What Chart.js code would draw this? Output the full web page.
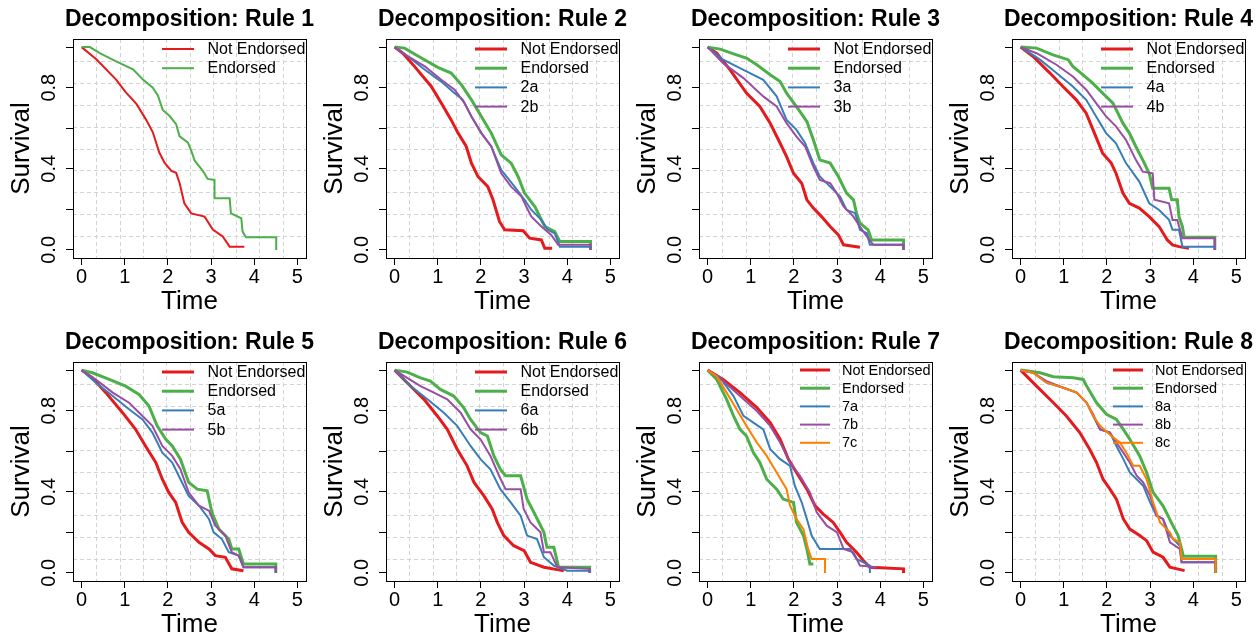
<!DOCTYPE html>
<html>
<head>
<meta charset="utf-8">
<script src="https://cdn.jsdelivr.net/npm/chart.js@4.4.1/dist/chart.umd.min.js"></script>
<style>
  html, body { margin: 0; padding: 0; background: #fff; overflow: hidden; }
  body { width: 1257px; height: 637px; position: relative; }
  canvas { position: absolute; }
</style>
</head>
<body>
<script>
// 軸の目盛り
const timeTicks = [0, 1, 2, 3, 4, 5];
const survTicks = [0, 0.2, 0.4, 0.6, 0.8, 1];
const survLabels = [0, 0.4, 0.8];
// 点線グリッドの位置
const gridTimes = [0.34, 0.88, 1.42, 1.96, 2.5, 3.04, 3.58, 4.12, 4.66];
const gridSurv = [0.068, 0.176, 0.284, 0.392, 0.5, 0.608, 0.716, 0.824, 0.932];

const titles = [
  'Decomposition: Rule 1', 'Decomposition: Rule 2', 'Decomposition: Rule 3', 'Decomposition: Rule 4',
  'Decomposition: Rule 5', 'Decomposition: Rule 6', 'Decomposition: Rule 7', 'Decomposition: Rule 8'
];
const groupNames = ['Not Endorsed', 'Endorsed'];
const subNames = [[], ['2a', '2b'], ['3a', '3b'], ['4a', '4b'], ['5a', '5b'], ['6a', '6b'], ['7a', '7b', '7c'], ['8a', '8b', '8c']];

// 生存曲線 [time, survival]
const rule1NotEndorsed = [[0,1],[0.34,0.94],[0.8,0.84],[1.01,0.78],[1.27,0.72],[1.5,0.64],[1.65,0.58],[1.8,0.48],[1.92,0.43],[2.08,0.39],[2.19,0.38],[2.27,0.33],[2.38,0.23],[2.54,0.18],[2.85,0.164],[3.04,0.1],[3.27,0.066],[3.43,0.016],[3.77,0.016]];
const rule1Endorsed = [[0,1],[0.19,1],[0.42,0.97],[0.8,0.93],[1.19,0.89],[1.42,0.84],[1.65,0.8],[1.77,0.76],[1.88,0.69],[2.04,0.66],[2.19,0.62],[2.27,0.56],[2.46,0.53],[2.54,0.49],[2.62,0.44],[2.81,0.39],[2.92,0.35],[3.08,0.345],[3.08,0.255],[3.43,0.255],[3.46,0.18],[3.7,0.156],[3.73,0.09],[3.81,0.062],[4.51,0.062],[4.51,0]];

const rule2NotEndorsed = [[0,1],[0.19,0.97],[0.46,0.905],[0.85,0.806],[1.08,0.724],[1.31,0.641],[1.47,0.576],[1.66,0.51],[1.78,0.428],[1.93,0.362],[2.16,0.312],[2.28,0.247],[2.43,0.14],[2.55,0.099],[2.98,0.094],[3.13,0.058],[3.4,0.049],[3.48,0.008],[3.65,0.008]];
const rule2Endorsed = [[0,1],[0.23,0.995],[0.62,0.946],[1.0,0.9],[1.31,0.872],[1.55,0.814],[1.78,0.74],[2.01,0.658],[2.24,0.576],[2.47,0.469],[2.7,0.428],[2.86,0.362],[3.01,0.28],[3.25,0.214],[3.48,0.115],[3.71,0.09],[3.83,0.041],[4.54,0.041],[4.54,0]];
const rule2a = [[0,1],[0.31,0.954],[0.7,0.888],[1.08,0.83],[1.39,0.773],[1.58,0.74],[1.78,0.658],[2.01,0.576],[2.24,0.51],[2.47,0.395],[2.78,0.312],[3.01,0.247],[3.17,0.197],[3.4,0.148],[3.55,0.099],[3.71,0.082],[3.83,0.016],[4.54,0.016],[4.54,0]];
const rule2b = [[0,1],[0.31,0.954],[0.7,0.905],[1.08,0.839],[1.39,0.79],[1.62,0.724],[1.78,0.658],[2.01,0.576],[2.24,0.51],[2.47,0.378],[2.7,0.312],[2.94,0.263],[3.05,0.214],[3.17,0.164],[3.4,0.115],[3.63,0.074],[3.79,0.025],[4.54,0.025],[4.54,0]];

const rule3NotEndorsed = [[0,1],[0.21,0.97],[0.52,0.888],[0.9,0.773],[1.21,0.707],[1.45,0.625],[1.68,0.526],[1.83,0.46],[1.99,0.378],[2.18,0.329],[2.3,0.247],[2.45,0.206],[2.64,0.164],[2.84,0.115],[3.03,0.074],[3.15,0.025],[3.53,0.013]];
const rule3Endorsed = [[0,1],[0.29,0.99],[0.67,0.962],[0.9,0.946],[1.14,0.913],[1.45,0.864],[1.68,0.83],[1.83,0.773],[2.06,0.707],[2.3,0.633],[2.45,0.543],[2.6,0.444],[2.84,0.428],[3.03,0.362],[3.22,0.28],[3.38,0.247],[3.45,0.181],[3.53,0.132],[3.72,0.099],[3.8,0.049],[4.54,0.049],[4.54,0]];
const rule3a = [[0,1],[0.36,0.938],[0.83,0.888],[1.29,0.839],[1.6,0.757],[1.83,0.641],[2.06,0.592],[2.26,0.526],[2.45,0.428],[2.6,0.362],[2.84,0.312],[3.07,0.263],[3.22,0.197],[3.42,0.181],[3.53,0.099],[3.69,0.082],[3.76,0.025],[4.54,0.025],[4.54,0]];
const rule3b = [[0,1],[0.36,0.921],[0.83,0.847],[1.29,0.757],[1.6,0.707],[1.83,0.625],[2.06,0.559],[2.26,0.51],[2.45,0.411],[2.6,0.345],[2.84,0.329],[2.99,0.28],[3.15,0.214],[3.38,0.164],[3.53,0.115],[3.69,0.066],[3.84,0.025],[4.54,0.025],[4.54,0]];

const rule4NotEndorsed = [[0,1],[0.29,0.954],[0.68,0.872],[0.98,0.806],[1.29,0.74],[1.52,0.674],[1.71,0.576],[1.9,0.477],[2.1,0.428],[2.21,0.378],[2.37,0.28],[2.52,0.23],[2.75,0.206],[2.98,0.164],[3.21,0.115],[3.4,0.049],[3.52,0.025],[3.67,0.016],[3.9,0.008]];
const rule4Endorsed = [[0,1],[0.37,0.995],[0.75,0.962],[1.1,0.938],[1.21,0.905],[1.44,0.864],[1.67,0.822],[1.9,0.773],[2.14,0.724],[2.37,0.625],[2.52,0.576],[2.67,0.51],[2.83,0.444],[2.98,0.378],[3.06,0.304],[3.44,0.304],[3.5,0.247],[3.63,0.247],[3.67,0.164],[3.75,0.115],[3.79,0.062],[4.5,0.062],[4.5,0]];
const rule4a = [[0,1],[0.45,0.938],[0.83,0.872],[1.21,0.806],[1.52,0.74],[1.75,0.658],[1.98,0.576],[2.21,0.526],[2.44,0.428],[2.75,0.337],[2.98,0.23],[3.21,0.197],[3.44,0.148],[3.52,0.099],[3.67,0.099],[3.75,0.016],[4.5,0.016],[4.5,0]];
const rule4b = [[0,1],[0.37,0.97],[0.83,0.913],[1.21,0.855],[1.52,0.79],[1.75,0.724],[1.98,0.658],[2.21,0.609],[2.44,0.543],[2.67,0.444],[2.83,0.386],[3.06,0.378],[3.1,0.247],[3.44,0.23],[3.52,0.148],[3.63,0.148],[3.75,0.058],[4.5,0.058],[4.5,0]];

const rule5NotEndorsed = [[0,1],[0.25,0.962],[0.56,0.889],[0.95,0.79],[1.25,0.708],[1.48,0.626],[1.72,0.544],[1.87,0.462],[2.02,0.397],[2.18,0.348],[2.33,0.249],[2.48,0.2],[2.72,0.151],[2.95,0.118],[3.1,0.085],[3.33,0.077],[3.48,0.02],[3.75,0.011]];
const rule5Endorsed = [[0,1],[0.25,0.987],[0.64,0.954],[1.02,0.921],[1.33,0.88],[1.56,0.823],[1.75,0.725],[1.95,0.659],[2.1,0.626],[2.29,0.561],[2.48,0.446],[2.68,0.413],[2.91,0.405],[3.02,0.298],[3.18,0.216],[3.41,0.167],[3.48,0.118],[3.64,0.118],[3.75,0.044],[4.5,0.044],[4.5,0]];
const rule5a = [[0,1],[0.33,0.938],[0.72,0.872],[1.1,0.807],[1.41,0.757],[1.64,0.692],[1.87,0.593],[2.1,0.544],[2.29,0.462],[2.48,0.38],[2.72,0.331],[2.95,0.266],[3.06,0.2],[3.25,0.167],[3.41,0.102],[3.64,0.085],[3.75,0.028],[4.5,0.028],[4.5,0]];
const rule5b = [[0,1],[0.33,0.954],[0.72,0.889],[1.1,0.839],[1.41,0.774],[1.64,0.725],[1.87,0.626],[2.1,0.577],[2.29,0.511],[2.48,0.397],[2.72,0.331],[2.95,0.307],[3.1,0.233],[3.33,0.184],[3.48,0.102],[3.64,0.085],[3.75,0.028],[4.5,0.028],[4.5,0]];

const rule6NotEndorsed = [[0,1],[0.29,0.938],[0.68,0.856],[0.99,0.774],[1.22,0.708],[1.45,0.61],[1.68,0.528],[1.84,0.446],[2.07,0.38],[2.26,0.315],[2.38,0.249],[2.53,0.184],[2.76,0.134],[3.0,0.11],[3.15,0.052],[3.46,0.028],[3.77,0.016],[3.92,0.011]];
const rule6Endorsed = [[0,1],[0.29,0.99],[0.6,0.962],[0.83,0.946],[1.06,0.905],[1.37,0.872],[1.6,0.815],[1.76,0.757],[1.99,0.692],[2.15,0.675],[2.3,0.577],[2.45,0.511],[2.57,0.479],[2.92,0.479],[3.07,0.364],[3.23,0.298],[3.46,0.2],[3.53,0.126],[3.69,0.126],[3.8,0.028],[4.52,0.028],[4.52,0]];
const rule6a = [[0,1],[0.37,0.921],[0.76,0.856],[1.14,0.79],[1.45,0.725],[1.76,0.626],[1.99,0.561],[2.22,0.511],[2.45,0.413],[2.69,0.348],[2.92,0.282],[3.07,0.184],[3.3,0.167],[3.46,0.077],[3.69,0.036],[4.0,0.011],[4.52,0.011],[4.52,0]];
const rule6b = [[0,1],[0.29,0.962],[0.6,0.921],[0.91,0.889],[1.22,0.856],[1.53,0.79],[1.76,0.708],[1.99,0.659],[2.22,0.577],[2.42,0.479],[2.57,0.413],[2.92,0.413],[2.99,0.315],[3.15,0.249],[3.38,0.2],[3.46,0.102],[3.61,0.102],[3.77,0.028],[4.52,0.02],[4.52,0]];

const rule7NotEndorsed = [[0,1],[0.36,0.954],[0.75,0.889],[1.14,0.815],[1.45,0.741],[1.68,0.659],[1.87,0.561],[2.06,0.495],[2.3,0.413],[2.49,0.331],[2.68,0.29],[2.91,0.249],[3.07,0.2],[3.22,0.151],[3.45,0.102],[3.61,0.061],[3.76,0.028],[4.54,0.02],[4.54,0]];
const rule7Endorsed = [[0,1],[0.21,0.954],[0.44,0.856],[0.6,0.774],[0.75,0.708],[0.9,0.675],[1.06,0.593],[1.21,0.544],[1.37,0.462],[1.6,0.413],[1.75,0.364],[1.99,0.348],[2.06,0.249],[2.22,0.184],[2.3,0.118],[2.37,0.044],[2.45,0.044]];
const rule7a = [[0,1],[0.29,0.962],[0.6,0.872],[0.83,0.774],[1.06,0.741],[1.29,0.708],[1.45,0.61],[1.68,0.561],[1.91,0.528],[2.02,0.43],[2.18,0.348],[2.3,0.266],[2.41,0.184],[2.6,0.118],[3.3,0.118],[3.45,0.069],[3.76,0.036],[3.76,0]];
const rule7b = [[0,1],[0.36,0.946],[0.75,0.872],[1.14,0.798],[1.45,0.725],[1.68,0.643],[1.91,0.544],[2.14,0.479],[2.37,0.397],[2.53,0.298],[2.76,0.233],[3.0,0.2],[3.15,0.118],[3.38,0.102],[3.53,0.036],[3.92,0.028]];
const rule7c = [[0,1],[0.21,0.97],[0.44,0.889],[0.67,0.807],[0.9,0.725],[1.14,0.643],[1.37,0.577],[1.6,0.495],[1.83,0.413],[1.91,0.331],[2.06,0.266],[2.22,0.216],[2.33,0.118],[2.41,0.069],[2.72,0.069],[2.72,0]];

const rule8NotEndorsed = [[0,1],[0.37,0.921],[0.76,0.839],[1.06,0.774],[1.37,0.692],[1.6,0.61],[1.76,0.544],[1.91,0.462],[2.07,0.413],[2.22,0.364],[2.38,0.266],[2.53,0.216],[2.76,0.184],[2.92,0.159],[3.07,0.102],[3.3,0.077],[3.46,0.028],[3.8,0.011]];
const rule8Endorsed = [[0,1],[0.45,0.987],[0.76,0.967],[1.22,0.962],[1.45,0.954],[1.53,0.921],[1.76,0.839],[1.99,0.782],[2.22,0.757],[2.38,0.708],[2.53,0.659],[2.76,0.577],[2.92,0.495],[3.07,0.397],[3.3,0.331],[3.53,0.233],[3.65,0.184],[3.73,0.118],[3.77,0.082],[4.52,0.082],[4.52,0]];
const rule8a = [[0,1],[0.29,0.987],[0.6,0.938],[0.99,0.913],[1.3,0.889],[1.53,0.839],[1.68,0.774],[1.84,0.708],[2.07,0.692],[2.22,0.626],[2.38,0.561],[2.53,0.495],[2.69,0.462],[2.84,0.43],[3.0,0.348],[3.15,0.282],[3.3,0.266],[3.46,0.184],[3.69,0.134],[3.73,0.052],[4.52,0.052],[4.52,0]];
const rule8b = [[0,1],[0.29,0.987],[0.6,0.946],[0.99,0.913],[1.3,0.889],[1.53,0.839],[1.68,0.782],[1.84,0.708],[2.07,0.692],[2.22,0.643],[2.38,0.593],[2.53,0.544],[2.69,0.479],[2.84,0.446],[3.0,0.38],[3.15,0.282],[3.3,0.266],[3.46,0.151],[3.69,0.118],[3.73,0.052],[4.52,0.052],[4.52,0]];
const rule8c = [[0,1],[0.29,0.987],[0.6,0.938],[0.99,0.913],[1.3,0.889],[1.53,0.839],[1.68,0.774],[1.84,0.725],[2.15,0.667],[2.3,0.643],[2.45,0.593],[2.61,0.528],[2.76,0.528],[2.92,0.462],[3.07,0.348],[3.23,0.249],[3.46,0.2],[3.53,0.167],[3.69,0.151],[3.73,0.069],[4.52,0.069],[4.52,0]];

const ruleSeries = [
  [rule1NotEndorsed, rule1Endorsed],
  [rule2NotEndorsed, rule2Endorsed, rule2a, rule2b],
  [rule3NotEndorsed, rule3Endorsed, rule3a, rule3b],
  [rule4NotEndorsed, rule4Endorsed, rule4a, rule4b],
  [rule5NotEndorsed, rule5Endorsed, rule5a, rule5b],
  [rule6NotEndorsed, rule6Endorsed, rule6a, rule6b],
  [rule7NotEndorsed, rule7Endorsed, rule7a, rule7b, rule7c],
  [rule8NotEndorsed, rule8Endorsed, rule8a, rule8b, rule8c]
];

// 色 (Set1)
const lineColors = ['#E41A1C', '#4DAF4A', '#377EB8', '#984EA3', '#FF7F00'];

Chart.defaults.font.family = '"Liberation Sans", Arial, sans-serif';
Chart.defaults.color = '#000';

// グリッド・枠・タイトル・凡例
const framePlugin = {
  id: 'frame',
  beforeDatasetsDraw(chart) {
    const {ctx, chartArea: a, scales: {x, y}} = chart;
    ctx.save();
    ctx.strokeStyle = '#d3d3d3';
    ctx.lineWidth = 1;
    ctx.setLineDash([4, 3]);
    gridTimes.forEach(v => {
      const px = Math.round(x.getPixelForValue(v)) + 0.5;
      ctx.beginPath(); ctx.moveTo(px, a.top); ctx.lineTo(px, a.bottom); ctx.stroke();
    });
    gridSurv.forEach(v => {
      const py = Math.round(y.getPixelForValue(v)) + 0.5;
      ctx.beginPath(); ctx.moveTo(a.left, py); ctx.lineTo(a.right, py); ctx.stroke();
    });
    ctx.restore();
  },
  afterDraw(chart, args, opts) {
    const {ctx, chartArea: a} = chart;
    ctx.save();
    // 枠
    ctx.strokeStyle = '#000';
    ctx.lineWidth = 1;
    ctx.strokeRect(Math.round(a.left) + 0.5, Math.round(a.top) + 0.5, Math.round(a.right - a.left), Math.round(a.bottom - a.top));
    // タイトル
    ctx.fillStyle = '#000';
    ctx.font = 'bold 23px "Liberation Sans", Arial, sans-serif';
    ctx.textAlign = 'center';
    ctx.textBaseline = 'middle';
    ctx.fillText(opts.title, (a.left + a.right) / 2, a.top - 19.5);
    // 凡例
    const lg = opts.legend;
    ctx.font = lg.size + 'px "Liberation Sans", Arial, sans-serif';
    ctx.textAlign = 'left';
    chart.data.datasets.forEach((ds, i) => {
      const ly = a.top + lg.y0 + i * lg.dy;
      ctx.strokeStyle = ds.borderColor;
      ctx.lineWidth = ds.borderWidth;
      ctx.beginPath(); ctx.moveTo(a.left + lg.x0, ly); ctx.lineTo(a.left + lg.x1, ly); ctx.stroke();
      ctx.fillText(ds.label, a.left + lg.tx, ly + 0.5);
    });
    ctx.restore();
  }
};

const colLeft = [0, 313, 626, 939];
const rowTop = [0, 323];

ruleSeries.forEach((series, k) => {
  const cv = document.createElement('canvas');
  cv.width = 320;
  cv.height = 320;
  cv.style.left = colLeft[k % 4] + 'px';
  cv.style.top = rowTop[Math.floor(k / 4)] + 'px';
  document.body.appendChild(cv);

  const names = groupNames.concat(subNames[k]);
  const wide = k >= 6;
  const legend = wide
    ? {x0: 101, x1: 131, tx: 143, y0: 8, dy: 18.2, size: 14.5}
    : {x0: 89, x1: 121, tx: 134.5, y0: 10, dy: 19.2, size: 16};

  new Chart(cv, {
    type: 'line',
    data: {
      datasets: series.map((pts, i) => ({
        label: names[i],
        data: pts.map(p => ({x: p[0], y: p[1]})),
        borderColor: lineColors[i],
        borderWidth: k === 0 ? 2 : (i < 2 ? 3 : 2),
        pointRadius: 0,
        tension: 0,
        fill: false,
        order: -i
      }))
    },
    options: {
      responsive: false,
      animation: false,
      devicePixelRatio: 1,
      layout: {padding: {left: 0, top: 39, right: 14, bottom: 0}},
      plugins: {
        legend: {display: false},
        tooltip: {enabled: false},
        frame: {title: titles[k], legend: legend}
      },
      scales: {
        x: {
          type: 'linear',
          min: -0.2,
          max: 5.2,
          afterBuildTicks: s => { s.ticks = timeTicks.map(v => ({value: v})); },
          afterFit: s => { s.height = 62; },
          grid: {drawOnChartArea: false, drawTicks: true, tickLength: 7, color: '#000'},
          border: {display: false},
          ticks: {font: {size: 20}, color: '#000', padding: 0, maxRotation: 0, autoSkip: false, callback: v => String(v)},
          title: {display: true, text: 'Time', font: {size: 26}, color: '#000', padding: {top: 0, bottom: 3}}
        },
        y: {
          type: 'linear',
          min: -0.04,
          max: 1.04,
          afterBuildTicks: s => { s.ticks = survTicks.map(v => ({value: v})); },
          afterFit: s => { s.width = 73; },
          grid: {drawOnChartArea: false, drawTicks: true, tickLength: 7, color: '#000'},
          border: {display: false},
          ticks: {
            font: {size: 20}, color: '#000', padding: 3, autoSkip: false,
            minRotation: 90, maxRotation: 90, crossAlign: 'center',
            callback: v => survLabels.includes(v) ? v.toFixed(1) : ''
          },
          title: {display: true, text: 'Survival', font: {size: 26}, color: '#000', padding: {top: 6, bottom: 0}}
        }
      }
    },
    plugins: [framePlugin]
  });
});
</script>
</body>
</html>
